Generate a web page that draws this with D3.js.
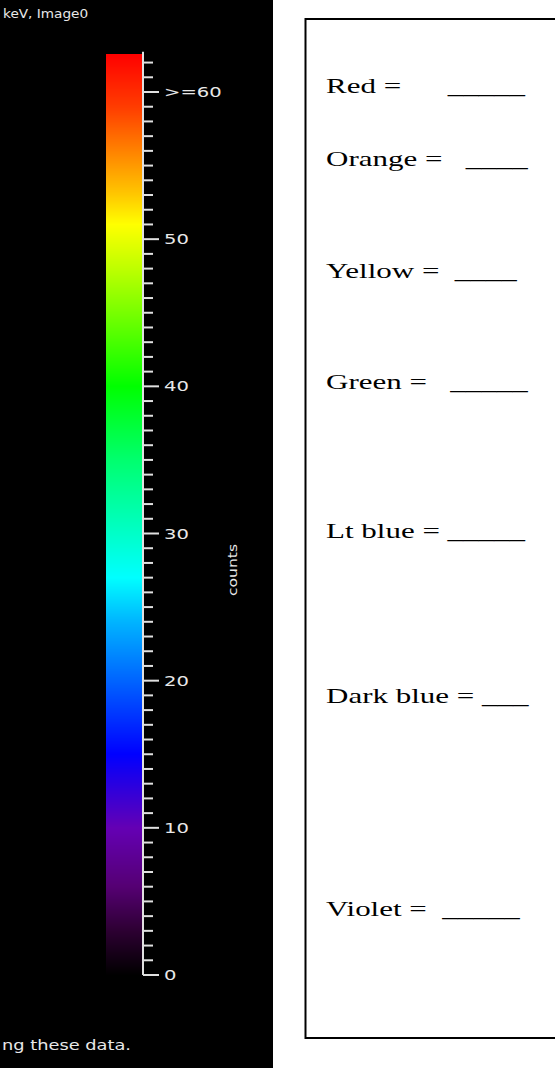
<!DOCTYPE html>
<html>
<head>
<meta charset="utf-8">
<script src="https://cdn.jsdelivr.net/npm/d3@7"></script>
<style>
  html, body { margin: 0; padding: 0; background: #fff; }
  svg { display: block; }
  .pix { font-family: "DejaVu Sans", sans-serif; fill: #e8e8e8; }
  .doc { font-family: "Liberation Serif", "Times New Roman", serif; fill: #000; white-space: pre; }
</style>
</head>
<body>
<svg id="chart" width="555" height="1068"></svg>
<script>
// ---- data ----
const colorStopValues = [0, 3, 6, 10, 15, 20, 24, 27, 30, 35, 40, 45, 48, 51, 53, 56, 59, 62.6];
const colorStopColors = ["#000000", "#2d0032", "#550073", "#6400b4", "#0000ff", "#0064ff", "#00b4ff",
  "#00ffff", "#00ffc8", "#00ff6e", "#00ff00", "#78ff00", "#beff00", "#ffff00", "#ffc800",
  "#ff8200", "#ff3c00", "#ff0000"];
const majorTickValues = [0, 10, 20, 30, 40, 50, 60];
const majorTickLabels = ["0", "10", "20", "30", "40", "50", ">=60"];
const minorTickValues = d3.range(0, 63, 1);
const barMax = 62.6;
const titleText = "keV, Image0";
const axisTitle = "counts";
const footerText = "ng these data.";
const colorNames = ["Red", "Orange", "Yellow", "Green", "Lt blue", "Dark blue", "Violet"];
const answerBlanks = ["      _____", "   ____", "  ____", "   _____", " _____", " ___", "  _____"];
// document line position of each row (layout, in document "line" units)
const rowLines = [0, 2, 5.06, 8.08, 12.12, 16.6, 22.4];

// ---- layout ----
const W = 555, H = 1068;
const svg = d3.select("#chart");

// black panel
svg.append("rect").attr("x", 0).attr("y", 0).attr("width", 273).attr("height", H).attr("fill", "#000");

const y = d3.scaleLinear().domain([0, 60]).range([975, 92]);
const color = d3.scaleLinear().domain(colorStopValues).range(colorStopColors).interpolate(d3.interpolateRgb).clamp(true);

const barX0 = 106, barX1 = 142;
const yTop = Math.round(y(barMax)), yBot = Math.round(y(0));
const rows = d3.range(yTop, yBot);
svg.append("g").selectAll("rect").data(rows).join("rect")
  .attr("x", barX0).attr("width", barX1 - barX0)
  .attr("y", d => d).attr("height", 1.05)
  .attr("fill", d => color(y.invert(d + 0.5)));

// axis
const axisX = 143;
const axG = svg.append("g");
axG.append("line").attr("x1", axisX).attr("x2", axisX).attr("y1", y(barMax) - 2).attr("y2", y(0))
  .attr("stroke", "#e0e0e0").attr("stroke-width", 2);
axG.selectAll("line.minor").data(minorTickValues).join("line").attr("class", "minor")
  .attr("x1", axisX).attr("x2", d => majorTickValues.includes(d) ? axisX + 16 : axisX + 10)
  .attr("y1", d => y(d)).attr("y2", d => y(d))
  .attr("stroke", "#e0e0e0").attr("stroke-width", 2);

function stretchedText(parent, x, yy, txt, cls, size, sx, rot) {
  const g = parent.append("g").attr("transform", `translate(${x},${yy})` + (rot ? ` rotate(${rot})` : "") + ` scale(${sx},1)`);
  return g.append("text").attr("class", cls).attr("font-size", size).text(txt);
}

majorTickValues.forEach((v, i) => {
  stretchedText(svg, 164, y(v) + 5, majorTickLabels[i], "pix", 13.5, 1.45);
});

stretchedText(svg, 3, 18, titleText, "pix", 13, 1.05);
stretchedText(svg, 2, 1050, footerText, "pix", 14, 1.27);
stretchedText(svg, 237, 570, axisTitle, "pix", 13, 1.2, -90).attr("text-anchor", "middle");

// worksheet box
svg.append("rect").attr("x", 305.5).attr("y", 19).attr("width", 300).attr("height", 1019)
  .attr("fill", "none").attr("stroke", "#000").attr("stroke-width", 2);

const rowY = d3.scaleLinear().domain([0, 22.4]).range([92.5, 915.7]);
colorNames.forEach((name, i) => {
  stretchedText(svg, 326, rowY(rowLines[i]), name + " =" + answerBlanks[i], "doc", 20, 1.55);
});
</script>
</body>
</html>
